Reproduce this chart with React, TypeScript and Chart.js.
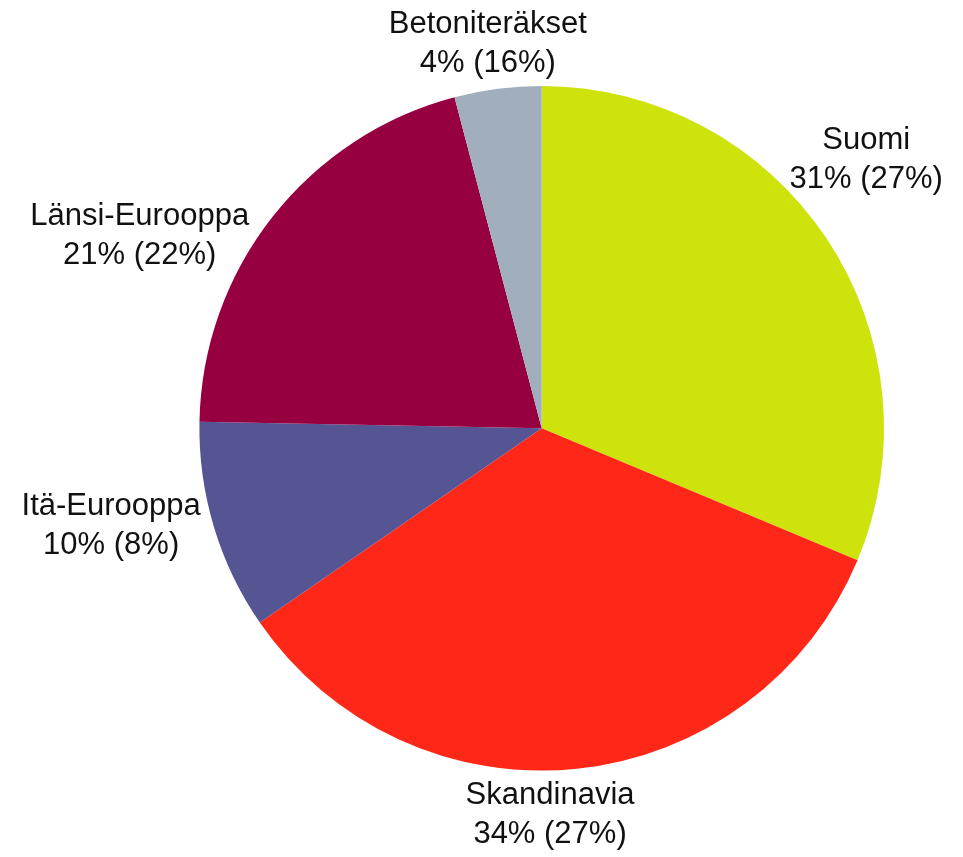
import React, { useEffect, useRef } from "react";
import { Chart, registerables } from "chart.js";

Chart.register(...registerables);

const categories = ["Suomi", "Skandinavia", "Itä-Eurooppa", "Länsi-Eurooppa", "Betoniteräkset"];
const shares = [31.3, 34.1, 9.9, 20.6, 4.1];
const shareLabels = ["31% (27%)", "34% (27%)", "10% (8%)", "21% (22%)", "4% (16%)"];
const colors = ["#CEE30C", "#FF2818", "#555593", "#960040", "#A1AFBD"];

// label placement relative to slice: angle shift (deg) and distance as factor of radius
const labelAngleShift = [-5.9, 4.7, 4.0, -12.6, -0.6];
const labelDistance = [1.2296, 1.1285, 1.2895, 1.3018, 1.1335];

const outsideLabels = {
  id: "outsideLabels",
  afterDatasetsDraw(chart: any) {
    const ctx = chart.ctx;
    const meta = chart.getDatasetMeta(0);
    ctx.save();
    ctx.font = '31px "Liberation Sans", Arial, sans-serif';
    ctx.fillStyle = "#111111";
    ctx.textAlign = "center";
    ctx.textBaseline = "middle";
    meta.data.forEach((arc: any, i: number) => {
      const p = arc.getProps(["x", "y", "startAngle", "endAngle", "outerRadius"], true);
      const mid = (p.startAngle + p.endAngle) / 2 + (labelAngleShift[i] * Math.PI) / 180;
      const d = p.outerRadius * labelDistance[i];
      const cx = p.x + Math.cos(mid) * d;
      const cy = p.y + Math.sin(mid) * d;
      ctx.fillText(categories[i], cx, cy - 19.5);
      ctx.fillText(shareLabels[i], cx, cy + 19.5);
    });
    ctx.restore();
  },
};

export default function App() {
  const ref = useRef<HTMLCanvasElement>(null);
  useEffect(() => {
    document.body.style.margin = "0";
    const chart = new Chart(ref.current!, {
      type: "pie",
      data: {
        labels: categories,
        datasets: [
          {
            data: shares,
            backgroundColor: colors,
            borderWidth: 0,
          },
        ],
      },
      options: {
        responsive: false,
        animation: false,
        layout: { padding: { left: 199.4, right: 79, top: 86, bottom: 86.4 } },
        plugins: {
          legend: { display: false },
          tooltip: { enabled: false },
        },
      },
      plugins: [outsideLabels],
    });
    return () => chart.destroy();
  }, []);
  return (
    <div style={{ position: "absolute", left: 0, top: 0, width: 963, height: 857, background: "#fff" }}>
      <canvas ref={ref} width={963} height={857} style={{ display: "block" }} />
    </div>
  );
}
